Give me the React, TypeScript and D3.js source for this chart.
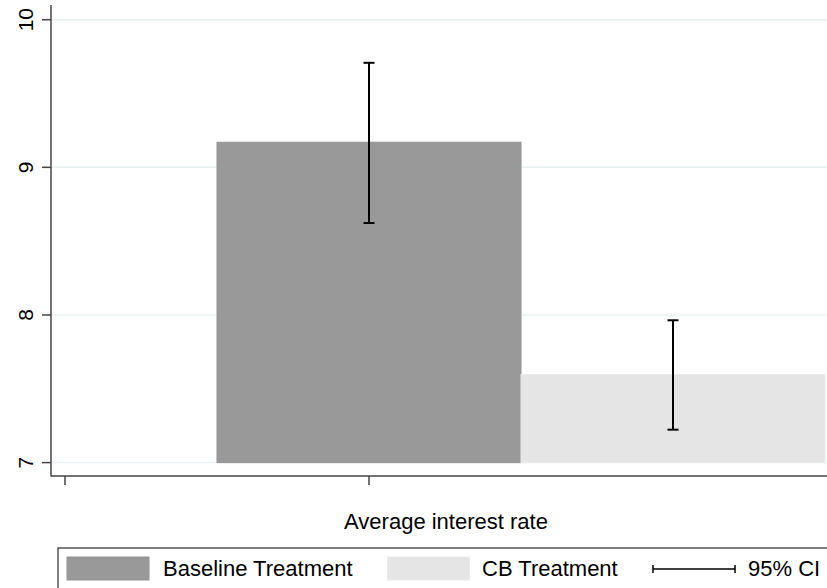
import React from "react";
import * as d3 from "d3";

const categories = ["Baseline Treatment", "CB Treatment"];
const means = [9.17, 7.596];
const ciLow = [8.623, 7.223];
const ciHigh = [9.708, 7.964];
const yTicks = [7, 8, 9, 10];
const xTicks = [0, 1];
const barPos = [1, 2];
const colors = ["#999999", "#e5e5e5"];
const strokes = ["#939393", "#ebebeb"];
const xTitle = "Average interest rate";
const ciLabel = "95% CI";

const W = 827;
const H = 588;
const FONT = "'Liberation Sans', Arial, sans-serif";

export default function App() {
  const y = d3.scaleLinear().domain([7, 10]).range([462.6, 19.7]);
  const x = d3.scaleLinear().domain([0, 1]).range([65, 369]);
  const axisX = 51;
  const axisY = 476;
  const bw = x(1) - x(0);
  const capHalf = 5.5;

  const legendItems = [
    { sx: 67, tx: 163, i: 0 },
    { sx: 387.5, tx: 482, i: 1 },
  ];

  return (
    <svg
      width={W}
      height={H}
      style={{ position: "absolute", left: 0, top: 0, background: "#fff" }}
      fontFamily={FONT}
    >
      <rect x={0} y={0} width={W} height={H} fill="#fff" />
      {/* gridlines */}
      {yTicks.map((t) => (
        <line key={"g" + t} x1={axisX} x2={W} y1={y(t)} y2={y(t)} stroke="#eaf0f2" strokeWidth={1.5} />
      ))}
      {/* bars */}
      {means.map((m, i) => (
        <rect
          key={"b" + i}
          x={x(barPos[i]) - bw / 2}
          y={y(m)}
          width={bw}
          height={y(7) - y(m)}
          fill={colors[i]}
          stroke={strokes[i]}
          strokeWidth={1}
        />
      ))}
      {/* error bars */}
      {means.map((m, i) => {
        const cx = x(barPos[i]);
        return (
          <g key={"e" + i} stroke="#000" strokeWidth={2}>
            <line x1={cx} x2={cx} y1={y(ciHigh[i])} y2={y(ciLow[i])} />
            <line x1={cx - capHalf} x2={cx + capHalf} y1={y(ciHigh[i])} y2={y(ciHigh[i])} />
            <line x1={cx - capHalf} x2={cx + capHalf} y1={y(ciLow[i])} y2={y(ciLow[i])} />
          </g>
        );
      })}
      {/* y axis */}
      <line x1={axisX} x2={axisX} y1={5} y2={axisY + 0.5} stroke="#444" strokeWidth={1.5} />
      {yTicks.map((t) => (
        <g key={"yt" + t}>
          <line x1={axisX - 9} x2={axisX} y1={y(t)} y2={y(t)} stroke="#444" strokeWidth={1.5} />
          <text
            transform={`translate(${axisX - 18},${y(t)}) rotate(-90)`}
            textAnchor="middle"
            fontSize={21}
            fill="#000"
          >
            {t}
          </text>
        </g>
      ))}
      {/* x axis */}
      <line x1={axisX} x2={W} y1={axisY} y2={axisY} stroke="#444" strokeWidth={1.5} />
      {xTicks.map((t) => (
        <line key={"xt" + t} x1={x(t)} x2={x(t)} y1={axisY} y2={axisY + 9} stroke="#444" strokeWidth={1.5} />
      ))}
      <text x={446} y={529} textAnchor="middle" fontSize={22} fill="#000">
        {xTitle}
      </text>
      {/* legend */}
      <rect x={58} y={548} width={800} height={80} fill="#fff" stroke="#555" strokeWidth={1.5} />
      {legendItems.map((l) => (
        <g key={"l" + l.i}>
          <rect x={l.sx} y={557} width={82} height={23} fill={colors[l.i]} stroke={strokes[l.i]} />
          <text x={l.tx} y={576} fontSize={22} fill="#000">
            {categories[l.i]}
          </text>
        </g>
      ))}
      <g stroke="#000" strokeWidth={1.5}>
        <line x1={653} x2={735} y1={569} y2={569} />
        <line x1={653} x2={653} y1={565} y2={573} />
        <line x1={735} x2={735} y1={565} y2={573} />
      </g>
      <text x={748} y={576} fontSize={22} fill="#000">
        {ciLabel}
      </text>
    </svg>
  );
}
